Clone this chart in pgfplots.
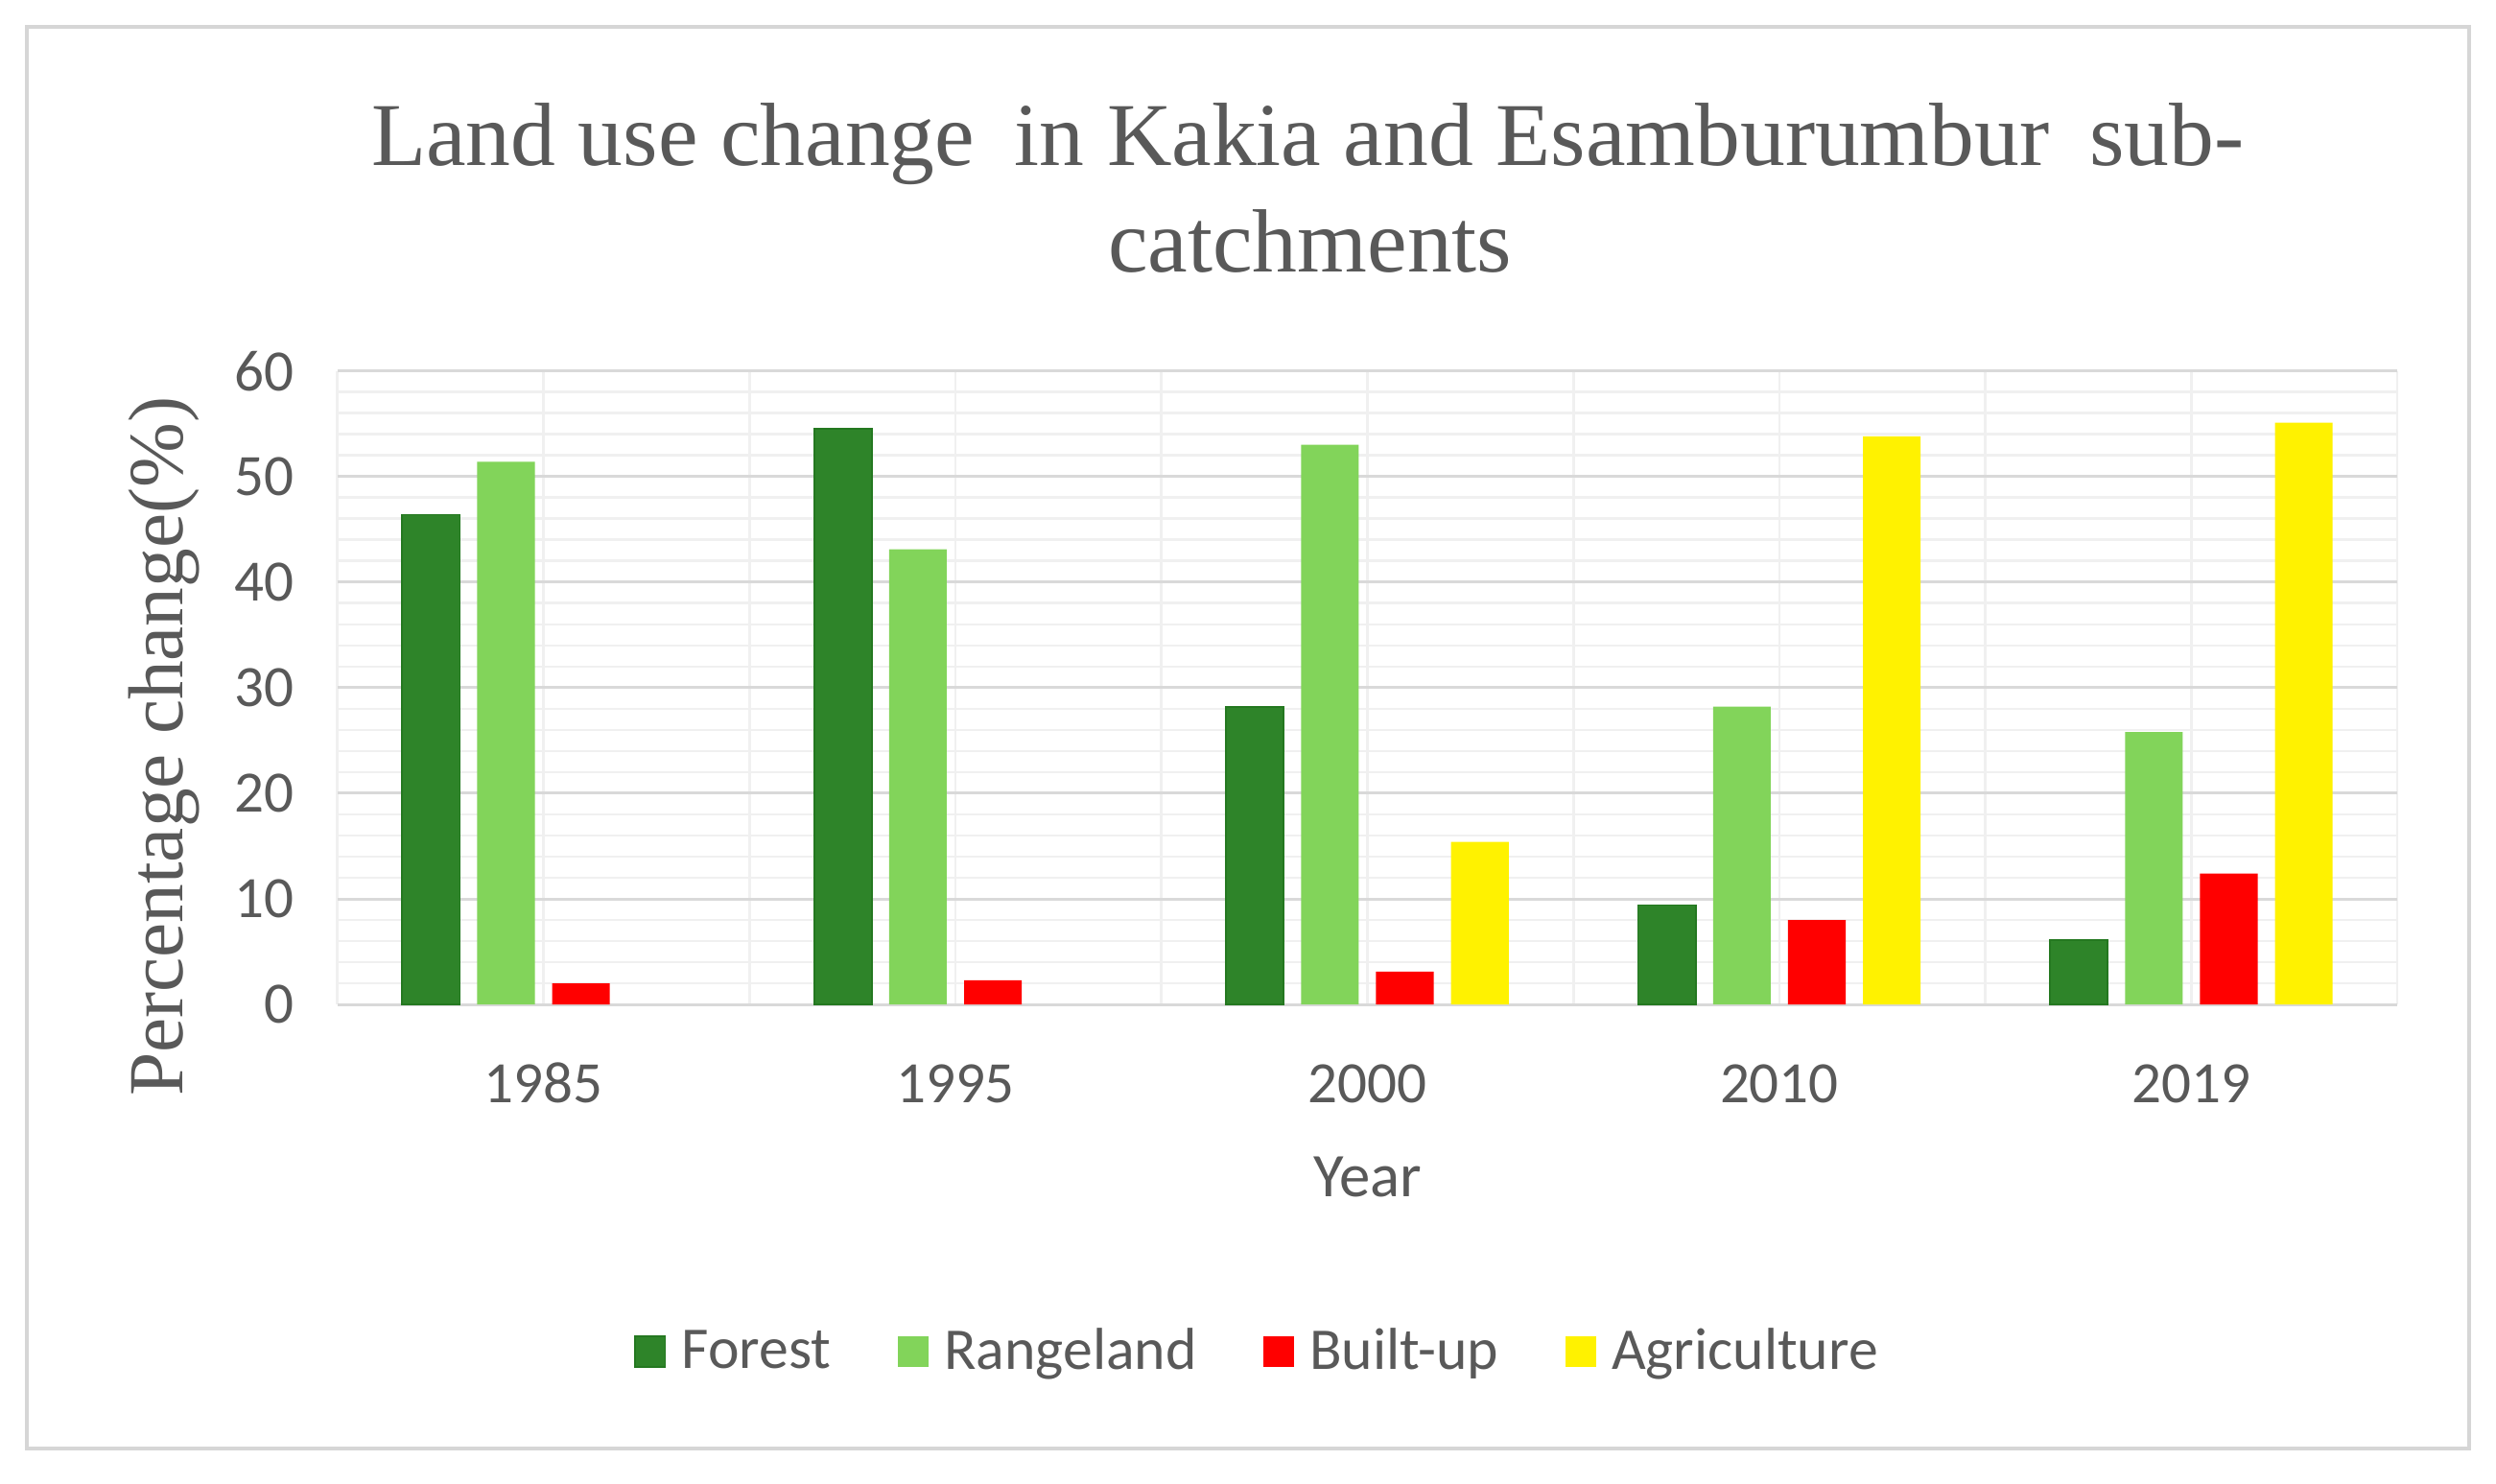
\documentclass[border=0pt]{standalone}
\usepackage{fontspec}
\setmainfont{Carlito}
\newfontfamily\serifttl{Liberation Serif}
\usepackage{pgfplots}
\pgfplotsset{compat=1.18}
\definecolor{forest}{RGB}{46,132,41}
\definecolor{forestedge}{RGB}{36,120,32}
\definecolor{rangeland}{RGB}{130,212,90}
\definecolor{txtgray}{RGB}{89,89,89}
\definecolor{majgrid}{RGB}{217,217,217}
\definecolor{mingrid}{RGB}{240,240,240}
\definecolor{framegray}{RGB}{214,214,214}

\begin{document}
\begin{tikzpicture}
\fill[white] (0,0) rectangle (784pt,466pt);
\path[use as bounding box] (0,0) rectangle (784pt,466pt);
\draw[framegray, line width=1.2pt] (8.5pt,11pt) rectangle (775.5pt,457.5pt);
\node[anchor=base, text=txtgray, font=\serifttl\fontsize{28.2}{33}\selectfont, inner sep=0pt]
  at (410.75pt,414pt) {Land use change\hspace{5.5pt} in Kakia and Esamburumbur\hspace{5.5pt} sub-};
\node[anchor=base, text=txtgray, font=\serifttl\fontsize{28.2}{33}\selectfont, inner sep=0pt]
  at (411.5pt,380.5pt) {catchments};

\begin{axis}[
  at={(106pt,150.5pt)}, anchor=south west,
  scale only axis, width=647pt, height=199pt,
  ybar, bar width=0.14,
  xmin=-0.5, xmax=4.5, ymin=0, ymax=60,
  xtick={0,...,4}, xticklabels={1985,1995,2000,2010,2019},
  minor xtick={-0.5,0.5,...,4.5},
  ytick={0,10,...,60}, minor y tick num=4,
  major tick length=0pt, minor tick length=0pt,
  xmajorgrids, xminorgrids, ymajorgrids, yminorgrids,
  major x grid style={color=mingrid, line width=0.8pt},
  minor x grid style={color=mingrid, line width=0.8pt},
  major y grid style={color=majgrid, line width=0.9pt},
  minor y grid style={color=mingrid, line width=0.8pt},
  axis line style={draw=none},
  /pgf/number format/assume math mode=true,
  ticklabel style={font=\fontsize{18.4}{22}\selectfont, text=txtgray},
  yticklabel style={xshift=-10pt},
  xticklabel style={anchor=base, yshift=-31pt},
  xlabel={Year},
  xlabel style={at={(axis description cs:0.5,-0.304)}, anchor=base,
    font=\fontsize{19.5}{23}\selectfont, text=txtgray},
  ylabel={Percentage change(\%)},
  ylabel style={at={(axis description cs:-0.0842,0.407)}, anchor=center,
    font=\serifttl\fontsize{24.5}{28}\selectfont, text=txtgray},
  legend columns=-1,
  legend image code/.code={\fill[#1] (0pt,-4.75pt) rectangle (9.5pt,4.75pt);
    \path (12.5pt,0pt);},
  legend style={at={(0.4475,-0.548)}, anchor=center, draw=none, fill=none,
    font=\fontsize{18.6}{22}\selectfont, text=txtgray,
    /tikz/every even column/.append style={column sep=19pt}},
]
\addplot[fill=forest, draw=forestedge, line width=0.5pt, bar shift=-0.273]
  coordinates {(0,46.4) (1,54.5) (2,28.2) (3,9.4) (4,6.1)};
\addplot[fill=rangeland, draw=none, bar shift=-0.091]
  coordinates {(0,51.4) (1,43.1) (2,53.0) (3,28.2) (4,25.8)};
\addplot[fill=red, draw=none, bar shift=0.091]
  coordinates {(0,2.0) (1,2.3) (2,3.1) (3,8.0) (4,12.4)};
\addplot[fill=yellow, draw=none, bar shift=0.273]
  coordinates {(2,15.4) (3,53.8) (4,55.1)};
\legend{Forest, Rangeland, Built-up, Agriculture}
\end{axis}
\end{tikzpicture}
\end{document}
